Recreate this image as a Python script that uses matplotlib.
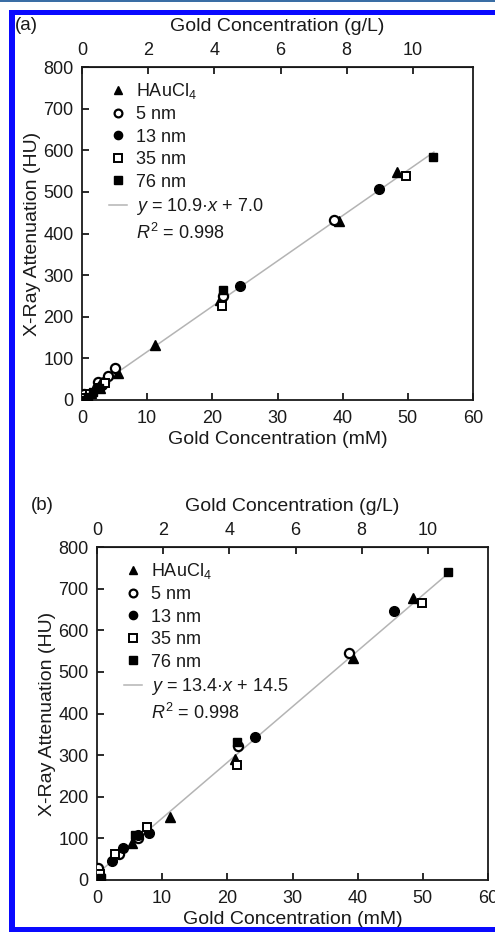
import matplotlib
matplotlib.use("Agg")
import matplotlib.pyplot as plt
from matplotlib.lines import Line2D
from matplotlib.patches import Rectangle
import numpy as np

plt.rcParams['font.family'] = ['Liberation Sans', 'DejaVu Sans']
plt.rcParams['mathtext.fontset'] = 'custom'
plt.rcParams['mathtext.rm'] = 'Liberation Sans'
plt.rcParams['mathtext.it'] = 'Liberation Sans:italic'
plt.rcParams['mathtext.bf'] = 'Liberation Sans:bold'

# ---------------- data ----------------
series_names = ["HAuCl$_4$", "5 nm", "13 nm", "35 nm", "76 nm"]

# panel (a)
a_hau_x = [0.7, 1.4, 2.8, 5.6, 11.2, 21.2, 39.5, 48.4]
a_hau_y = [8, 18, 30, 66, 132, 240, 431, 548]
a_5_x = [0.3, 2.4, 3.3, 4.0, 5.1, 21.7, 38.6]
a_5_y = [14, 44, 44, 58, 76, 251, 432]
a_13_x = [0.4, 1.5, 2.3, 3.0, 24.2, 45.5]
a_13_y = [2, 18, 28, 36, 274, 508]
a_35_x = [0.5, 1.3, 2.7, 3.5, 21.5, 49.7]
a_35_y = [5, 14, 30, 42, 226, 539]
a_76_x = [0.2, 0.9, 1.7, 2.6, 21.6, 53.9]
a_76_y = [0, 8, 20, 28, 264, 583]
a_fit = (10.9, 7.0)
a_r2 = 0.998

# panel (b)
b_hau_x = [0.5, 5.4, 11.2, 21.2, 39.3, 48.5]
b_hau_y = [8, 88, 152, 290, 534, 677]
b_5_x = [0.2, 3.3, 6.3, 21.7, 38.6]
b_5_y = [28, 62, 100, 322, 545]
b_13_x = [0.5, 2.25, 4.0, 6.3, 8.0, 24.2, 45.6]
b_13_y = [10, 46, 76, 108, 114, 343, 646]
b_35_x = [0.5, 2.8, 7.6, 21.5, 49.8]
b_35_y = [14, 62, 128, 276, 665]
b_76_x = [0.6, 5.8, 21.5, 53.9]
b_76_y = [5, 108, 332, 739]
b_fit = (13.4, 14.5)
b_r2 = 0.998

fit_range = [0.0, 54.0]
x_ticks_mM = [0, 10, 20, 30, 40, 50, 60]
y_ticks_HU = [0, 100, 200, 300, 400, 500, 600, 700, 800]
top_ticks_gL = [0, 2, 4, 6, 8, 10]
AU_MW = 196.97  # g/mol

# ---------------- style ----------------
TXT = '#1a1a1a'
FS_TICK = 13
FS_LAB = 14
FS_LEG = 13
styles = [
    dict(marker='^', ms=7.4, mfc='black', mec='black', mew=1.0),
    dict(marker='o', ms=6.6, mfc='white', mec='black', mew=1.6),
    dict(marker='o', ms=7.0, mfc='black', mec='black', mew=1.0),
    dict(marker='s', ms=6.2, mfc='white', mec='black', mew=1.4),
    dict(marker='s', ms=6.4, mfc='black', mec='black', mew=1.0),
]

fig = plt.figure(figsize=(4.95, 9.32), dpi=100)
W, H = 495.0, 932.0


def make_panel(rect, data, fit, r2, letter, letter_xy):
    ax = fig.add_axes(rect)
    fx = np.array(fit_range)
    ax.plot(fx, fit[0] * fx + fit[1], color='#b4b4b4', lw=1.1, zorder=1)
    for (xs, ys), st in zip(data, styles):
        ax.plot(xs, ys, ls='none', zorder=3, **st)
    ax.set_xlim(0, 60)
    ax.set_ylim(0, 800)
    ax.set_xticks(x_ticks_mM)
    ax.set_yticks(y_ticks_HU)
    ax.tick_params(direction='in', length=5, width=1.3, labelsize=FS_TICK,
                   labelcolor=TXT, color=TXT, pad=7, right=False, top=False)
    ax.tick_params(axis='y', pad=6)
    for s in ax.spines.values():
        s.set_linewidth(1.3)
        s.set_color(TXT)
    ax.set_xlabel('Gold Concentration (mM)', fontsize=FS_LAB, color=TXT, labelpad=3)
    ax.set_ylabel('X-Ray Attenuation (HU)', fontsize=FS_LAB, color=TXT, labelpad=2)

    sec = ax.secondary_xaxis('top', functions=(lambda m: m * AU_MW / 1000.0,
                                               lambda g: g * 1000.0 / AU_MW))
    sec.set_xticks(top_ticks_gL)
    sec.tick_params(direction='in', length=5, width=1.3, labelsize=FS_TICK,
                    labelcolor=TXT, color=TXT, pad=6)
    sec.set_xlabel('Gold Concentration (g/L)', fontsize=FS_LAB, color=TXT, labelpad=8)

    handles = [Line2D([], [], ls='none', **st) for st in styles]
    handles.append(Line2D([], [], color='#b4b4b4', lw=1.1))
    handles.append(Line2D([], [], ls='none', marker=None))
    labels = list(series_names) + [
        '$y$ = %.1f\u00b7$x$ + %.1f' % fit,
        '$R^2$ = %.3f' % r2]
    ax.legend(handles, labels, loc='upper left', bbox_to_anchor=(0.07, 0.958),
              frameon=False, fontsize=FS_LEG, labelspacing=0.3, handlelength=1.0,
              handletextpad=0.5, borderpad=0, borderaxespad=0,
              markerscale=0.85, labelcolor=TXT)
    fig.text(letter_xy[0] / W, 1 - letter_xy[1] / H, letter, fontsize=13.5,
             color=TXT, ha='left', va='center')
    return ax


data_a = [(a_hau_x, a_hau_y), (a_5_x, a_5_y), (a_13_x, a_13_y),
          (a_35_x, a_35_y), (a_76_x, a_76_y)]
data_b = [(b_hau_x, b_hau_y), (b_5_x, b_5_y), (b_13_x, b_13_y),
          (b_35_x, b_35_y), (b_76_x, b_76_y)]

make_panel([82 / W, 1 - 400 / H, 391 / W, 333 / H], data_a, a_fit, a_r2, '(a)', (15, 25))
make_panel([97 / W, 1 - 880 / H, 391 / W, 333 / H], data_b, b_fit, b_r2, '(b)', (31, 505))

# blue frame of the screenshot
def prect(x0, y0, x1, y1, color):
    fig.patches.append(Rectangle((x0 / W, 1 - y1 / H), (x1 - x0) / W, (y1 - y0) / H,
                                 transform=fig.transFigure, color=color, lw=0,
                                 zorder=10))

prect(0, 0, 495, 2, '#3a6ea5')
prect(9, 10, 495, 15, '#0a0aff')
prect(9, 10, 15, 932, '#0a0aff')
prect(9, 927, 495, 932, '#0a0aff')

fig.savefig('out.png', dpi=100)
